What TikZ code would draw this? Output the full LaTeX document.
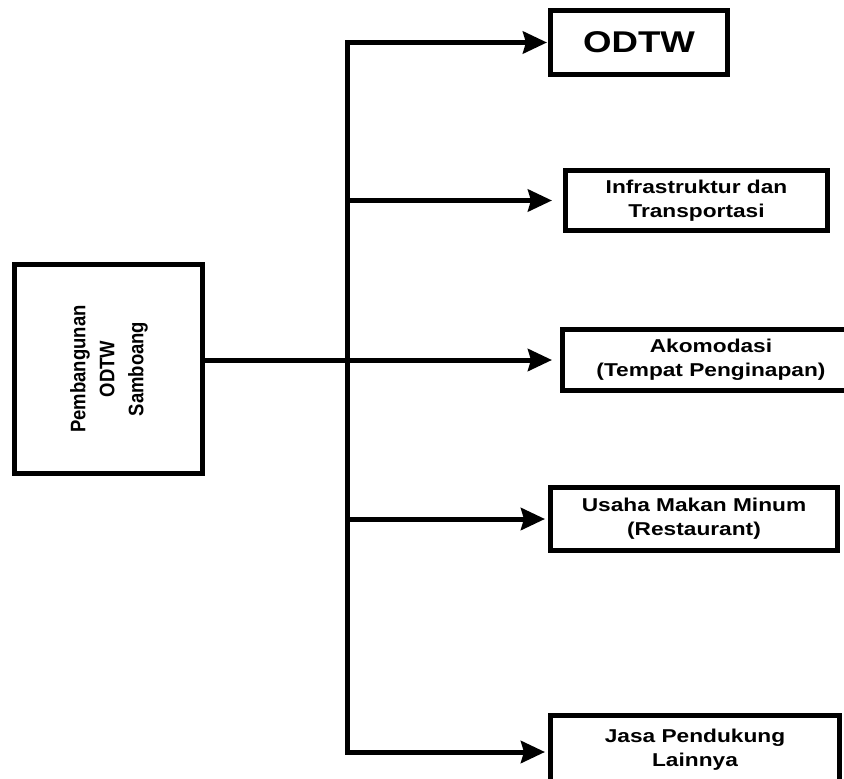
\documentclass[tikz,border=0pt]{standalone}
\usepackage{fontspec}
\newfontfamily\boxfont{Liberation Sans}[FakeStretch=1.22]
\newfontfamily\sidefont{Liberation Sans}[FakeStretch=0.88]
\usetikzlibrary{positioning,arrows.meta}

\begin{document}
\begin{tikzpicture}[x=1pt, y=-1pt, line width=5pt]
% Definition of blocks:
\tikzset{%
  block/.style    = {draw, rectangle, inner sep=0pt, align=center, font=\boxfont\bfseries\fontsize{18.6}{24}\selectfont},
  input/.style    = {coordinate}, % bend of the trunk
  arr/.style      = {-{Stealth[length=24pt, width=22pt, inset=3pt]}}
}
\useasboundingbox (0,0) rectangle (844,779);
\clip (0,0) rectangle (844,779);

\draw
	node [block, minimum width=188pt, minimum height=209pt, font=\sidefont\bfseries\fontsize{21}{29}\selectfont] (Dev) at (108.5,369)
		{\rotatebox{90}{\begin{tabular}{@{}c@{}}Pembangunan\\ODTW\\Samboang\end{tabular}}}
	node [block, minimum width=177pt, minimum height=64pt, font=\boxfont\bfseries\fontsize{30}{36}\selectfont] (ODTW) at (639,42.5) {ODTW}
	node [block, minimum width=262pt, minimum height=60pt] (Infra) at (696.5,200.5) {Infrastruktur dan\\Transportasi}
	node [block, minimum width=297pt, minimum height=61pt] (Akom) at (711,360) {Akomodasi\\(Tempat Penginapan)}
	node [block, minimum width=287pt, minimum height=63pt] (Usaha) at (694,519) {Usaha Makan Minum\\(Restaurant)}
	node [block, minimum width=289pt, minimum height=69pt] (Jasa) at (695,750) {Jasa Pendukung\\Lainnya}
	node [input] (TrunkTop) at (347.5,42.5) {}
	node [input] (TrunkBot) at (347.5,752) {};

\draw[line cap=rect](TrunkTop) -- (TrunkBot);
\draw[arr](TrunkTop) -- ([xshift=-1pt]ODTW.west);
\draw[arr](TrunkTop |- Infra) -- ([xshift=-11pt]Infra.west);
\draw[arr](Dev.east |- Akom) -- ([xshift=-8pt]Akom.west);
\draw[arr](TrunkTop |- Usaha) -- ([xshift=-3pt]Usaha.west);
\draw[arr](TrunkBot) -- ([xshift=-3pt]Jasa.west |- TrunkBot);

\end{tikzpicture}
\end{document}
